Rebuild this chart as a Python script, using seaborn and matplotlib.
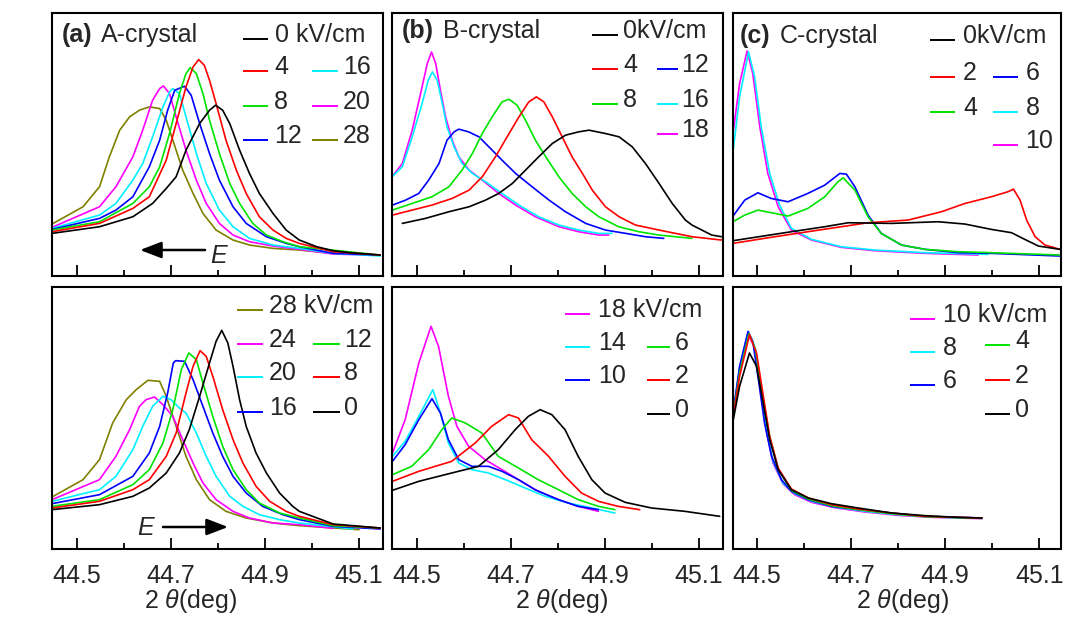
import matplotlib
matplotlib.use("Agg")
import matplotlib.pyplot as plt
import matplotlib.transforms as mtransforms
from matplotlib.lines import Line2D
import pandas as pd
import seaborn as sns

# ---------------------------------------------------------------- data
# (200) diffraction profiles, 2theta in degrees, intensity in arbitrary units.
# Upper row: increasing field; lower row: field removal.

K, R, G, B, C, M, O = "#000000", "#ff0000", "#00e400", "#0000ff", "#00f0ff", "#ff00ff", "#808000"

# (a) A-crystal, field up
A_UP_FIELDS = ["0", "4", "8", "12", "16", "20", "28"]
A_UP_COLORS = [K, R, G, B, C, M, O]
A_UP_X = [
    [44.447, 44.548, 44.619, 44.661, 44.690, 44.711, 44.732, 44.761, 44.782, 44.795, 44.810, 44.825, 44.846, 44.867, 44.888, 44.917, 44.945, 44.973, 45.010, 45.045, 45.081, 45.145],
    [44.447, 44.548, 44.619, 44.654, 44.690, 44.711, 44.732, 44.747, 44.759, 44.771, 44.782, 44.796, 44.817, 44.839, 44.860, 44.888, 44.917, 44.945, 44.973, 45.045, 45.145],
    [44.447, 44.548, 44.619, 44.654, 44.676, 44.697, 44.718, 44.732, 44.741, 44.754, 44.768, 44.782, 44.803, 44.825, 44.846, 44.874, 44.903, 44.938, 44.973, 45.145],
    [44.447, 44.548, 44.583, 44.619, 44.654, 44.676, 44.693, 44.708, 44.729, 44.743, 44.761, 44.782, 44.803, 44.832, 44.860, 44.903, 44.945, 44.973, 45.045, 45.145],
    [44.447, 44.548, 44.583, 44.619, 44.640, 44.661, 44.683, 44.697, 44.704, 44.718, 44.732, 44.754, 44.775, 44.803, 44.832, 44.867, 44.917, 44.973, 45.045, 45.145],
    [44.447, 44.548, 44.583, 44.619, 44.640, 44.661, 44.676, 44.684, 44.697, 44.711, 44.732, 44.754, 44.775, 44.803, 44.832, 44.867, 44.917, 44.973, 45.045, 45.130],
    [44.447, 44.513, 44.548, 44.569, 44.591, 44.612, 44.633, 44.654, 44.676, 44.690, 44.704, 44.725, 44.747, 44.768, 44.796, 44.832, 44.867, 44.917, 44.973, 45.045, 45.116],
]
A_UP_I = [
    [128, 148, 178, 218, 263, 298, 378, 458, 498, 513, 498, 458, 378, 308, 248, 188, 138, 108, 88, 76, 70, 63],
    [133, 158, 203, 238, 348, 458, 568, 628, 650, 633, 588, 518, 408, 318, 248, 178, 138, 113, 98, 73, 63],
    [138, 163, 218, 268, 328, 428, 548, 608, 626, 608, 548, 468, 368, 278, 218, 158, 123, 103, 88, 63],
    [140, 173, 198, 238, 328, 408, 498, 558, 570, 543, 458, 368, 288, 208, 158, 118, 98, 88, 68, 63],
    [143, 183, 218, 288, 338, 418, 508, 553, 563, 548, 478, 368, 278, 198, 148, 113, 93, 83, 68, 60],
    [146, 208, 268, 358, 438, 528, 563, 571, 548, 478, 378, 288, 218, 158, 123, 103, 90, 80, 66, 63],
    [156, 208, 268, 358, 438, 478, 498, 508, 503, 468, 408, 318, 248, 188, 138, 108, 93, 83, 78, 68, 66],
]

# (b) B-crystal, field up
B_UP_FIELDS = ["0", "4", "8", "12", "16", "18"]
B_UP_COLORS = [K, R, G, B, C, M]
B_UP_X = [
    [44.469, 44.518, 44.568, 44.611, 44.646, 44.674, 44.703, 44.731, 44.759, 44.788, 44.816, 44.844, 44.866, 44.901, 44.930, 44.958, 44.986, 45.015, 45.043, 45.071, 45.085, 45.127, 45.148],
    [44.448, 44.490, 44.532, 44.575, 44.611, 44.639, 44.667, 44.696, 44.717, 44.738, 44.754, 44.770, 44.788, 44.809, 44.830, 44.852, 44.873, 44.901, 44.930, 44.965, 45.015, 45.085, 45.148],
    [44.448, 44.490, 44.532, 44.568, 44.596, 44.618, 44.639, 44.660, 44.681, 44.696, 44.713, 44.731, 44.752, 44.774, 44.802, 44.830, 44.859, 44.887, 44.929, 44.972, 45.015, 45.085],
    [44.448, 44.476, 44.504, 44.525, 44.547, 44.564, 44.579, 44.589, 44.610, 44.632, 44.653, 44.681, 44.710, 44.745, 44.781, 44.816, 44.859, 44.901, 44.944, 44.986, 45.025],
    [44.447, 44.469, 44.490, 44.511, 44.524, 44.533, 44.543, 44.554, 44.564, 44.579, 44.596, 44.618, 44.646, 44.681, 44.717, 44.759, 44.802, 44.844, 44.887, 44.915],
    [44.447, 44.469, 44.490, 44.511, 44.522, 44.531, 44.540, 44.550, 44.561, 44.575, 44.589, 44.611, 44.639, 44.674, 44.710, 44.752, 44.802, 44.844, 44.887, 44.908],
]
B_UP_I = [
    [158, 173, 193, 208, 228, 248, 278, 318, 358, 398, 423, 433, 438, 428, 418, 388, 338, 278, 218, 168, 153, 123, 118],
    [183, 198, 213, 233, 258, 298, 358, 428, 478, 523, 538, 523, 478, 418, 358, 308, 258, 208, 178, 153, 138, 118, 108],
    [198, 218, 238, 268, 318, 368, 428, 478, 523, 531, 513, 468, 408, 358, 298, 248, 208, 178, 148, 133, 123, 113],
    [213, 228, 248, 288, 338, 408, 433, 441, 433, 418, 388, 348, 308, 268, 228, 193, 158, 138, 128, 118, 113],
    [298, 328, 418, 518, 588, 613, 588, 518, 448, 388, 338, 308, 283, 248, 213, 178, 153, 138, 128, 128],
    [298, 338, 438, 568, 638, 673, 638, 558, 478, 408, 358, 318, 288, 248, 213, 178, 148, 133, 123, 123],
]

# (c) C-crystal, field up
C_UP_FIELDS = ["0", "2", "4", "6", "8", "10"]
C_UP_COLORS = [K, R, G, B, C, M]
C_UP_X = [
    [44.449, 44.573, 44.644, 44.694, 44.786, 44.885, 44.942, 44.998, 45.041, 45.069, 45.098, 45.144],
    [44.449, 44.538, 44.608, 44.679, 44.736, 44.821, 44.892, 44.942, 44.998, 45.033, 45.045, 45.059, 45.073, 45.091, 45.112, 45.144],
    [44.449, 44.474, 44.502, 44.538, 44.566, 44.608, 44.644, 44.672, 44.683, 44.708, 44.736, 44.764, 44.807, 44.857, 44.928, 44.998, 45.144],
    [44.449, 44.474, 44.502, 44.530, 44.566, 44.608, 44.644, 44.676, 44.690, 44.708, 44.736, 44.764, 44.807, 44.857, 44.928, 44.998, 45.144],
    [44.449, 44.463, 44.482, 44.495, 44.509, 44.527, 44.548, 44.573, 44.616, 44.679, 44.750, 44.857, 44.991],
    [44.449, 44.463, 44.479, 44.491, 44.506, 44.523, 44.545, 44.573, 44.616, 44.679, 44.750, 44.857, 44.970],
]
C_UP_I = [
    [106, 133, 148, 160, 158, 163, 156, 140, 130, 110, 90, 80],
    [98, 118, 133, 148, 160, 168, 193, 218, 238, 253, 261, 228, 168, 118, 93, 80],
    [163, 183, 198, 188, 180, 203, 238, 283, 295, 258, 178, 128, 93, 80, 73, 70, 63],
    [180, 228, 250, 233, 223, 248, 273, 308, 306, 268, 183, 128, 93, 80, 70, 68, 60],
    [373, 538, 673, 598, 448, 308, 213, 143, 110, 88, 78, 70, 65],
    [428, 578, 676, 608, 448, 308, 208, 138, 108, 86, 76, 68, 63],
]

# (a) A-crystal, field down
A_DN_FIELDS = ["0", "8", "12", "16", "20", "24", "28"]
A_DN_COLORS = [K, R, G, B, C, M, O]
A_DN_X = [
    [44.447, 44.548, 44.619, 44.654, 44.690, 44.718, 44.739, 44.761, 44.782, 44.796, 44.808, 44.821, 44.832, 44.846, 44.860, 44.881, 44.903, 44.931, 44.959, 44.973, 45.045, 45.145],
    [44.447, 44.548, 44.619, 44.654, 44.690, 44.711, 44.732, 44.747, 44.762, 44.775, 44.789, 44.810, 44.832, 44.853, 44.881, 44.910, 44.945, 44.973, 45.045, 45.145],
    [44.447, 44.548, 44.619, 44.654, 44.683, 44.704, 44.722, 44.738, 44.754, 44.768, 44.789, 44.810, 44.832, 44.860, 44.888, 44.931, 44.973, 45.045, 45.145],
    [44.447, 44.548, 44.619, 44.654, 44.676, 44.693, 44.705, 44.710, 44.729, 44.747, 44.768, 44.789, 44.810, 44.832, 44.860, 44.895, 44.938, 44.973, 45.045, 45.145],
    [44.447, 44.548, 44.583, 44.619, 44.640, 44.661, 44.683, 44.700, 44.718, 44.732, 44.754, 44.775, 44.796, 44.825, 44.853, 44.888, 44.931, 44.973, 45.087],
    [44.447, 44.548, 44.583, 44.612, 44.633, 44.647, 44.665, 44.683, 44.704, 44.725, 44.747, 44.768, 44.796, 44.832, 44.867, 44.917, 44.973, 45.045],
    [44.447, 44.513, 44.548, 44.576, 44.605, 44.626, 44.651, 44.676, 44.690, 44.711, 44.732, 44.754, 44.782, 44.817, 44.860, 44.917, 44.973, 45.100],
]
A_DN_I = [
    [118, 133, 158, 183, 228, 288, 358, 458, 558, 623, 656, 618, 548, 448, 368, 288, 228, 168, 128, 113, 75, 63],
    [123, 143, 178, 208, 278, 348, 468, 548, 595, 578, 518, 418, 328, 258, 188, 143, 113, 98, 73, 63],
    [128, 148, 193, 238, 318, 418, 538, 588, 568, 498, 398, 308, 238, 178, 138, 108, 93, 70, 63],
    [136, 163, 218, 288, 368, 468, 558, 565, 563, 508, 428, 348, 278, 218, 168, 128, 103, 88, 68, 60],
    [143, 178, 218, 298, 368, 428, 458, 448, 423, 408, 348, 278, 218, 158, 128, 103, 88, 78, 60],
    [148, 208, 278, 358, 428, 448, 456, 433, 398, 328, 258, 198, 148, 113, 93, 78, 73, 62],
    [156, 208, 268, 378, 448, 478, 506, 503, 458, 368, 278, 208, 148, 113, 93, 78, 70, 58],
]

# (b) B-crystal, field down
B_DN_FIELDS = ["0", "2", "6", "10", "14", "18"]
B_DN_COLORS = [K, R, G, B, C, M]
B_DN_X = [
    [44.448, 44.504, 44.574, 44.631, 44.673, 44.709, 44.737, 44.762, 44.787, 44.815, 44.843, 44.872, 44.900, 44.943, 44.999, 45.070, 45.144],
    [44.448, 44.504, 44.574, 44.624, 44.659, 44.695, 44.716, 44.744, 44.780, 44.815, 44.850, 44.886, 44.928, 44.974],
    [44.448, 44.489, 44.525, 44.553, 44.574, 44.603, 44.638, 44.673, 44.716, 44.758, 44.801, 44.843, 44.886, 44.921],
    [44.448, 44.475, 44.504, 44.532, 44.550, 44.567, 44.589, 44.617, 44.652, 44.681, 44.716, 44.751, 44.801, 44.843, 44.886],
    [44.448, 44.475, 44.504, 44.534, 44.550, 44.567, 44.589, 44.617, 44.652, 44.688, 44.730, 44.773, 44.822, 44.872, 44.921],
    [44.448, 44.475, 44.504, 44.530, 44.546, 44.567, 44.585, 44.610, 44.645, 44.681, 44.716, 44.758, 44.801, 44.843, 44.886],
]
B_DN_I = [
    [176, 203, 228, 248, 298, 358, 398, 418, 403, 358, 278, 208, 168, 140, 123, 113, 98],
    [203, 233, 263, 318, 368, 403, 393, 328, 278, 218, 168, 143, 128, 118],
    [223, 248, 298, 358, 393, 378, 348, 278, 243, 208, 178, 148, 128, 118],
    [263, 313, 388, 451, 408, 328, 268, 248, 248, 233, 208, 178, 148, 128, 118],
    [278, 323, 398, 478, 408, 318, 258, 238, 228, 208, 183, 158, 138, 123, 108],
    [288, 388, 558, 668, 608, 458, 368, 308, 268, 238, 208, 173, 148, 128, 113],
]

# (c) C-crystal, field down
C_DN_FIELDS = ["0", "2", "4", "6", "8", "10"]
C_DN_COLORS = [K, R, G, B, C, M]
C_DN_X = [
    [44.449, 44.463, 44.484, 44.499, 44.513, 44.527, 44.545, 44.573, 44.609, 44.658, 44.715, 44.786, 44.857, 44.928, 44.978],
    [44.449, 44.463, 44.484, 44.499, 44.513, 44.527, 44.545, 44.573, 44.609, 44.658, 44.715, 44.786, 44.857, 44.928, 44.978],
    [44.449, 44.463, 44.483, 44.497, 44.511, 44.526, 44.545, 44.573, 44.609, 44.658, 44.715, 44.786, 44.857, 44.928, 44.978],
    [44.449, 44.463, 44.481, 44.491, 44.502, 44.516, 44.531, 44.552, 44.573, 44.609, 44.658, 44.715, 44.786, 44.857, 44.928, 44.978],
    [44.449, 44.463, 44.481, 44.494, 44.506, 44.520, 44.534, 44.555, 44.580, 44.616, 44.665, 44.729, 44.800, 44.871, 44.978],
    [44.449, 44.463, 44.481, 44.494, 44.506, 44.520, 44.534, 44.555, 44.580, 44.616, 44.665, 44.729, 44.800, 44.871, 44.978],
]
C_DN_I = [
    [383, 488, 588, 548, 438, 328, 238, 178, 153, 136, 123, 108, 100, 95, 93],
    [393, 518, 643, 588, 463, 338, 243, 180, 153, 133, 120, 108, 98, 95, 93],
    [398, 528, 646, 598, 468, 343, 240, 176, 150, 130, 118, 106, 97, 94, 92],
    [408, 548, 653, 623, 518, 378, 278, 208, 173, 148, 128, 118, 108, 98, 95, 93],
    [403, 543, 650, 613, 498, 358, 263, 198, 166, 143, 126, 113, 103, 96, 92],
    [398, 533, 643, 608, 493, 353, 258, 196, 163, 140, 124, 111, 101, 95, 91],
]

MAJOR_TICKS = [44.5, 44.7, 44.9, 45.1]
MAJOR_LABELS = ["44.5", "44.7", "44.9", "45.1"]
MINOR_TICKS = [44.6, 44.8, 45.0]

# ---------------------------------------------------------------- style
sns.set_style("ticks")
plt.rcParams["font.family"] = ["Liberation Sans", "DejaVu Sans"]
plt.rcParams["mathtext.fontset"] = "custom"
plt.rcParams["mathtext.rm"] = "Liberation Sans"
plt.rcParams["mathtext.it"] = "Liberation Sans:italic"
plt.rcParams["mathtext.bf"] = "Liberation Sans:bold"

FS = 18
W, H = 1067, 619
fig = plt.figure(figsize=(W / 100, H / 100), dpi=100)
fig.patch.set_facecolor("white")
# pixel coordinates measured from the top-left corner of the figure
PX = mtransforms.Affine2D().scale(1 / W, -1 / H).translate(0, 1) + fig.transFigure


def make_axes(left, top, right, bottom, xlim, ylim, show_labels):
    ax = fig.add_axes([left / W, 1 - bottom / H, (right - left) / W, (bottom - top) / H])
    ax.set_xlim(*xlim)
    ax.set_ylim(*ylim)
    for sp in ax.spines.values():
        sp.set_color("black")
        sp.set_linewidth(1.5)
    ax.set_xticks(MAJOR_TICKS, MAJOR_LABELS if show_labels else [])
    ax.set_xticks(MINOR_TICKS, minor=True)
    ax.tick_params(axis="x", which="major", direction="in", length=8, width=1.3,
                   color="black", top=False, bottom=True, labelsize=FS, pad=11,
                   labelbottom=show_labels)
    ax.tick_params(axis="x", which="minor", direction="in", length=4.5, width=1.3,
                   color="black", top=False, bottom=True)
    ax.tick_params(axis="y", left=False, right=False, labelleft=False)
    ax.set_facecolor("white")
    return ax


def draw_curves(ax, fields, colors, xs, ys):
    frames = [pd.DataFrame({"two_theta": x, "intensity": y, "field": f})
              for f, x, y in zip(fields, xs, ys)]
    df = pd.concat(frames[::-1], ignore_index=True)
    sns.lineplot(data=df, x="two_theta", y="intensity", hue="field",
                 hue_order=fields[::-1], palette=dict(zip(fields, colors)),
                 estimator=None, sort=False, legend=False, lw=1.2, ax=ax)
    ax.set_xlabel("")
    ax.set_ylabel("")


def draw_key(entries):
    for label, color, x0, x1, xt, yb in entries:
        fig.add_artist(Line2D([x0, x1], [yb - 3, yb - 3], transform=PX,
                              color=color, lw=1.4, solid_capstyle="butt"))
        fig.text(xt, yb, label, transform=PX, fontsize=FS, ha="left", va="baseline")


def set_xlabel(ax, xfrac):
    ax.set_xlabel(r"2 $\theta$(deg)", fontsize=FS)
    ax.xaxis.set_label_coords(xfrac, -0.225)
    ax.xaxis.label.set_verticalalignment("baseline")


def set_ylabel(ax, yfrac):
    ax.set_ylabel("Intensity (A.U.)", fontsize=19)
    ax.yaxis.label.set_rotation_mode("default")
    ax.yaxis.label.set_verticalalignment("center")
    ax.yaxis.label.set_horizontalalignment("center")
    ax.yaxis.set_label_coords(-0.082, yfrac)


XLIM_AB = (44.447, 45.151)
XLIM_C = (44.449, 45.146)

ax_a1 = make_axes(52, 13, 383, 276, XLIM_AB, (0, 790), False)
ax_b1 = make_axes(392, 13, 723, 276, XLIM_AB, (0, 790), False)
ax_c1 = make_axes(733, 13, 1061, 276, XLIM_C, (0, 790), False)
ax_a2 = make_axes(52, 287, 383, 549, XLIM_AB, (0, 786), True)
ax_b2 = make_axes(392, 287, 723, 549, XLIM_AB, (0, 786), True)
ax_c2 = make_axes(733, 287, 1061, 549, XLIM_C, (0, 786), True)

draw_curves(ax_a1, A_UP_FIELDS, A_UP_COLORS, A_UP_X, A_UP_I)
draw_curves(ax_b1, B_UP_FIELDS, B_UP_COLORS, B_UP_X, B_UP_I)
draw_curves(ax_c1, C_UP_FIELDS, C_UP_COLORS, C_UP_X, C_UP_I)
draw_curves(ax_a2, A_DN_FIELDS, A_DN_COLORS, A_DN_X, A_DN_I)
draw_curves(ax_b2, B_DN_FIELDS, B_DN_COLORS, B_DN_X, B_DN_I)
draw_curves(ax_c2, C_DN_FIELDS, C_DN_COLORS, C_DN_X, C_DN_I)

set_ylabel(ax_a1, 0.487)
set_ylabel(ax_a2, 0.477)
set_xlabel(ax_a2, 0.42)
set_xlabel(ax_b2, 0.514)
set_xlabel(ax_c2, 0.518)

# panel titles
for tag, name, x_tag, x_name, yb in [("(a)", "A-crystal", 62, 101, 42),
                                     ("(b)", "B-crystal", 402, 443, 38),
                                     ("(c)", "C-crystal", 740, 780, 43)]:
    fig.text(x_tag, yb, tag, transform=PX, fontsize=FS, fontweight="bold", va="baseline")
    fig.text(x_name, yb, name, transform=PX, fontsize=FS, va="baseline")

# keys
draw_key([("0 kV/cm", K, 243, 268, 275, 42), ("4", R, 243, 268, 274, 74),
          ("8", G, 243, 268, 274, 109), ("12", B, 243, 268, 274, 143),
          ("16", C, 312, 338, 343, 74), ("20", M, 312, 338, 343, 109),
          ("28", O, 312, 338, 343, 143)])
draw_key([("0kV/cm", K, 592, 618, 623, 38), ("4", R, 592, 618, 623, 72),
          ("8", G, 592, 618, 623, 107), ("12", B, 657, 678, 681, 72),
          ("16", C, 657, 678, 681, 107), ("18", M, 657, 678, 681, 137)])
draw_key([("0kV/cm", K, 930, 955, 963, 43), ("2", R, 930, 955, 963, 80),
          ("4", G, 930, 955, 963, 115), ("6", B, 993, 1018, 1026, 80),
          ("8", C, 993, 1018, 1026, 115), ("10", M, 993, 1018, 1025, 148)])
draw_key([("28 kV/cm", O, 237, 263, 269, 313), ("24", M, 237, 263, 269, 347),
          ("20", C, 237, 263, 269, 380), ("16", B, 237, 263, 269, 415),
          ("12", G, 313, 340, 344, 347), ("8", R, 313, 340, 344, 380),
          ("0", K, 313, 340, 344, 415)])
draw_key([("18 kV/cm", M, 565, 590, 598, 317), ("14", C, 565, 590, 598, 350),
          ("10", B, 565, 590, 598, 383), ("6", G, 647, 670, 675, 350),
          ("2", R, 647, 670, 675, 383), ("0", K, 647, 670, 675, 417)])
draw_key([("10 kV/cm", M, 910, 935, 943, 322), ("8", C, 910, 935, 943, 355),
          ("6", B, 910, 935, 943, 388), ("4", G, 985, 1010, 1015, 348),
          ("2", R, 985, 1010, 1015, 383), ("0", K, 985, 1010, 1015, 417)])

# field-direction arrows
arrow_style = dict(arrowstyle="-|>,head_length=0.65,head_width=0.25", color="black",
                   lw=1.8, shrinkA=0, shrinkB=0, mutation_scale=20)
ax_a1.annotate("", xy=(140, 250), xytext=(205, 250), xycoords=PX, textcoords=PX,
               arrowprops=arrow_style, annotation_clip=False)
fig.text(210, 263, "E", transform=PX, fontsize=FS, fontstyle="italic", va="baseline")
ax_a2.annotate("", xy=(228, 527), xytext=(163, 527), xycoords=PX, textcoords=PX,
               arrowprops=arrow_style, annotation_clip=False)
fig.text(137, 535, "E", transform=PX, fontsize=FS, fontstyle="italic", va="baseline")

fig.savefig("out.png", dpi=100, facecolor="white")
